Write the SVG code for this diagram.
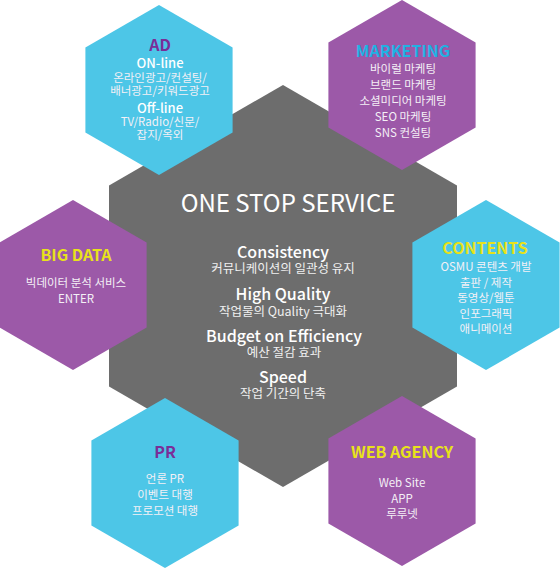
<svg xmlns="http://www.w3.org/2000/svg" width="560" height="568" viewBox="0 0 560 568">
<style>
text{font-family:"Noto Sans CJK KR","Noto Sans",sans-serif;text-anchor:middle;fill:#ffffff}
.cy{fill:#4DC6E7}
.pu{fill:#9C59A8}
.gr{fill:#6D6D6D}
.t{font-size:16px;font-weight:bold}
.tp{fill:#7A2E98}
.tc{fill:#1FB2E3}
.ty{fill:#E8E21A}
.s{font-size:11.5px;fill:#F4F0F6}
.b{font-size:13px;font-weight:500}
.h{font-size:16px;font-weight:500}
.k{font-size:12.5px;fill:#F0F0F0}
</style>
<g id="center">
<polygon class="gr" points="283,85 457,185.5 457,386.5 283,487 109,386.5 109,185.5"/>
<text x="288" y="212" style="font-size:24px">ONE STOP SERVICE</text>
<text x="283" y="258" class="h">Consistency</text>
<text x="283" y="273" class="k">커뮤니케이션의 일관성 유지</text>
<text x="283" y="300" class="h">High Quality</text>
<text x="283" y="316" class="k">작업물의 Quality 극대화</text>
<text x="284" y="342" class="h">Budget on Efficiency</text>
<text x="284" y="357" class="k">예산 절감 효과</text>
<text x="283" y="383" class="h">Speed</text>
<text x="283" y="398" class="k">작업 기간의 단축</text>
</g>
<g id="ad">
<polygon class="cy" points="159,5 232.6,47.5 232.6,132.5 159,175 85.4,132.5 85.4,47.5"/>
<text x="160" y="51" class="t tp">AD</text>
<text x="160" y="68" class="b">ON-line</text>
<text x="160" y="82" class="s">온라인광고/컨설팅/</text>
<text x="160" y="95" class="s">배너광고/키워드광고</text>
<text x="160" y="113" class="b">Off-line</text>
<text x="160" y="126" class="s">TV/Radio/신문/</text>
<text x="160" y="139" class="s">잡지/옥외</text>
</g>
<g id="marketing">
<polygon class="pu" points="402,0 475.6,42.5 475.6,127.5 402,170 328.4,127.5 328.4,42.5"/>
<text x="403" y="57" class="t tc">MARKETING</text>
<text x="403" y="73" class="s">바이럴 마케팅</text>
<text x="403" y="89" class="s">브랜드 마케팅</text>
<text x="403" y="105" class="s">소셜미디어 마케팅</text>
<text x="403" y="121" class="s">SEO 마케팅</text>
<text x="403" y="137" class="s">SNS 컨설팅</text>
</g>
<g id="bigdata">
<polygon class="pu" points="73,200 146.6,242.5 146.6,327.5 73,370 -0.6,327.5 -0.6,242.5"/>
<text x="76" y="261" class="t ty">BIG DATA</text>
<text x="76" y="287" class="s">빅데이터 분석 서비스</text>
<text x="76" y="303" class="s">ENTER</text>
</g>
<g id="contents">
<polygon class="cy" points="486,200 559.6,242.5 559.6,327.5 486,370 412.4,327.5 412.4,242.5"/>
<text x="485" y="254" class="t ty">CONTENTS</text>
<text x="486" y="271" class="s">OSMU 콘텐츠 개발</text>
<text x="486" y="287" class="s">출판 / 제작</text>
<text x="486" y="302" class="s">동영상/웹툰</text>
<text x="486" y="318" class="s">인포그래픽</text>
<text x="486" y="333" class="s">애니메이션</text>
</g>
<g id="pr">
<polygon class="cy" points="165,398 238.6,440.5 238.6,525.5 165,568 91.4,525.5 91.4,440.5"/>
<text x="165" y="458" class="t tp">PR</text>
<text x="165" y="483" class="s">언론 PR</text>
<text x="165" y="499" class="s">이벤트 대행</text>
<text x="165" y="515" class="s">프로모션 대행</text>
</g>
<g id="webagency">
<polygon class="pu" points="402,396 475.6,438.5 475.6,523.5 402,566 328.4,523.5 328.4,438.5"/>
<text x="402" y="458" class="t ty">WEB AGENCY</text>
<text x="402" y="487" class="s">Web Site</text>
<text x="402" y="503" class="s">APP</text>
<text x="402" y="518" class="s">루루넷</text>
</g>
<g id="connectors"/>
</svg>
